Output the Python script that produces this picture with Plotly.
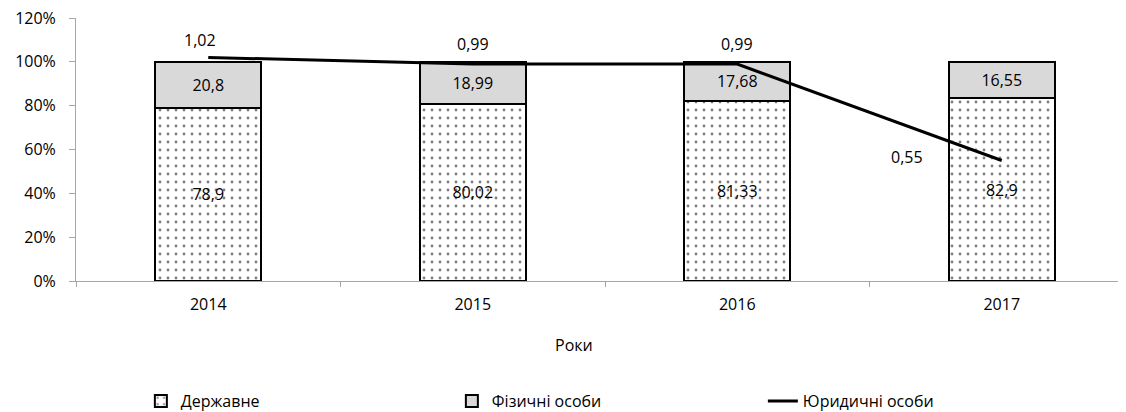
import plotly.graph_objects as go

years = ["2014", "2015", "2016", "2017"]
state = [78.9, 80.02, 81.33, 82.9]
individuals = [20.8, 18.99, 17.68, 16.55]
legal = [1.02, 0.99, 0.99, 0.55]

def fmt(v):
    return f"{v:g}".replace(".", ",")

FONT = "Open Sans"
FS = 16

fig = go.Figure()
fig.add_trace(go.Bar(
    x=years, y=state, name="Державне",
    text=[fmt(v) for v in state], textposition="inside", insidetextanchor="middle",
    textfont=dict(color="black", size=FS, family=FONT),
    marker=dict(color="white", line=dict(color="black", width=2),
                pattern=dict(shape=".", fgcolor="black", bgcolor="white", size=8, solidity=0.1)),
))
fig.add_trace(go.Bar(
    x=years, y=individuals, name="Фізичні особи",
    text=[fmt(v) for v in individuals], textposition="inside", insidetextanchor="middle",
    textfont=dict(color="black", size=FS, family=FONT),
    marker=dict(color="#d9d9d9", line=dict(color="black", width=2)),
))
fig.add_trace(go.Scatter(
    x=years, y=legal, name="Юридичні особи", mode="lines",
    line=dict(color="black", width=3),
))

shifts = [(-8, 17), (0, 20), (0, 20), (-95, 3)]
for i, (v, (dx, dy)) in enumerate(zip(legal, shifts)):
    fig.add_annotation(x=i, y=v, text=fmt(v), showarrow=False, xshift=dx, yshift=dy,
                       font=dict(size=FS, color="black", family=FONT))

fig.add_annotation(x=(574 - 76) / 1058, y=-(345 - 281) / 263, xref="paper", yref="paper",
                   xanchor="center", yanchor="middle", text="Роки",
                   showarrow=False, font=dict(size=FS, color="black", family=FONT))

fig.update_layout(
    width=1126, height=412,
    margin=dict(l=68, r=0, t=10, b=139, autoexpand=False),
    barmode="stack", barnorm="fraction", bargap=0.6,
    plot_bgcolor="white", paper_bgcolor="white",
    font=dict(family=FONT, size=FS, color="black"),
    showlegend=True,
    legend=dict(orientation="h", x=0.118, xanchor="left", xref="container",
                y=0.046, yref="container", yanchor="middle",
                entrywidth=266, traceorder="normal", font=dict(size=FS, family=FONT)),
)
fig.update_xaxes(type="category", range=[-0.5, 3.5], showline=True, linecolor="#a6a6a6",
                 linewidth=1, ticks="outside", tickson="boundaries", ticklen=5,
                 tickcolor="#a6a6a6", showgrid=False, ticklabelstandoff=9)
fig.update_yaxes(range=[0, 1.2001], tick0=0, tickformat=".0%", dtick=0.2, showline=True,
                 linecolor="#a6a6a6", linewidth=1, ticks="outside", ticklen=6,
                 tickcolor="#a6a6a6", showgrid=False, zeroline=False, ticklabelstandoff=10,
                 ticklabeloverflow="allow")

fig.write_html("out.html")
